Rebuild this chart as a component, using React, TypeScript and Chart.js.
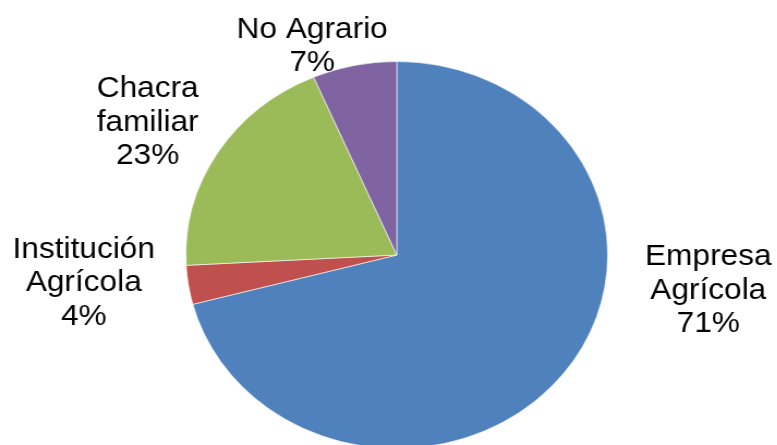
import React, { useEffect, useRef } from "react";
import { Chart, registerables } from "chart.js";

Chart.register(...registerables);

const categories = ["Empresa Agrícola", "Institución Agrícola", "Chacra familiar", "No Agrario"];
const values = [70.9, 3.25, 19.4, 6.45];
const percentLabels = ["71%", "4%", "23%", "7%"];
const labelLines = [["Empresa", "Agrícola"], ["Institución", "Agrícola"], ["Chacra", "familiar"], ["No Agrario"]];
const colors = ["#4F81BD", "#C0504D", "#9BBB59", "#8064A2"];
// label anchors relative to pie center, in units of radius (first baseline)
const labelOffsetX = [1.477, -1.484, -1.181, -0.401];
const labelOffsetY = [0.052, 0.015, -0.814, -1.124];

const STRETCH = 1.09;
const CW = 713;
const CH = 460;

const labelPlugin = {
  id: "pieLabels",
  afterDraw(chart: any) {
    const meta = chart.getDatasetMeta(0);
    const arc = meta.data[0];
    if (!arc) return;
    const cx = arc.x;
    const cy = arc.y;
    const r = arc.outerRadius;
    const ctx = chart.ctx;
    ctx.save();
    ctx.fillStyle = "#000";
    ctx.font = '29px "Liberation Sans", Arial, sans-serif';
    ctx.textAlign = "center";
    ctx.textBaseline = "alphabetic";
    const lh = 33.5;
    categories.forEach((_, i) => {
      const lines = [...labelLines[i], percentLabels[i]];
      const x = cx + labelOffsetX[i] * r;
      const y0 = cy + labelOffsetY[i] * r;
      lines.forEach((t, j) => ctx.fillText(t, x, y0 + j * lh));
    });
    ctx.restore();
  },
};

export default function App() {
  const ref = useRef<HTMLCanvasElement>(null);
  useEffect(() => {
    if (!ref.current) return;
    const chart = new Chart(ref.current, {
      type: "pie",
      data: {
        labels: categories,
        datasets: [
          {
            data: values,
            backgroundColor: colors,
            borderColor: "rgba(255,255,255,0.6)",
            borderWidth: 1,
          },
        ],
      },
      options: {
        responsive: false,
        animation: false,
        devicePixelRatio: 1,
        layout: { padding: { top: 61, bottom: 11, left: 15, right: 0 } },
        plugins: {
          legend: { display: false },
          tooltip: { enabled: false },
        },
      },
      plugins: [labelPlugin],
    });
    return () => chart.destroy();
  }, []);
  return (
    <div
      style={{
        position: "fixed",
        left: 0,
        top: 0,
        width: 777,
        height: 445,
        overflow: "hidden",
        background: "#fff",
      }}
    >
      <div style={{ transform: `scaleX(${STRETCH})`, transformOrigin: "0 0", width: CW, height: CH }}>
        <canvas ref={ref} width={CW} height={CH} style={{ display: "block" }} />
      </div>
    </div>
  );
}
